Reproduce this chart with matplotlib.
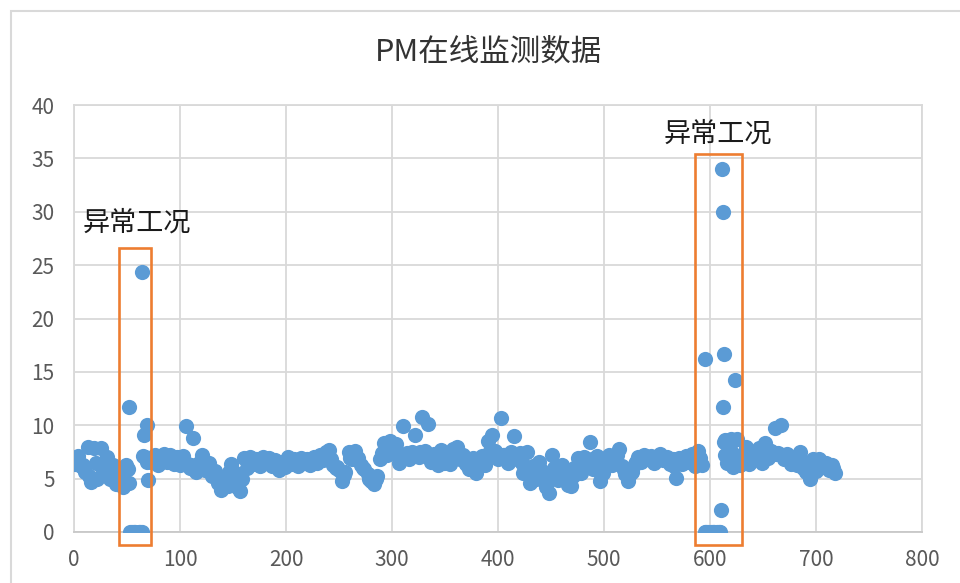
import numpy as np
import matplotlib
matplotlib.use("Agg")
import matplotlib.pyplot as plt
from matplotlib.patches import Rectangle

plt.rcParams['font.family'] = ['Noto Sans CJK SC', 'DejaVu Sans']

# 采样序号（每3个取一个）
sample_x = np.arange(1, 720, 3)
# 对应的PM读数
pm_y = [
    6.4, 7.1, 6.2, 5.6, 8.0, 4.7, 7.9, 5.0, 7.9, 6.0,   # 1-28
    7.0, 5.0, 6.3, 4.5, 5.6, 4.2, 6.3, 4.6, 0.0, 0.0,   # 31-58
    0.0, 0.0, 7.0, 4.9, 6.6, 7.2, 6.3, 6.9, 7.3, 6.6,   # 61-88
    7.2, 6.4, 7.0, 6.3, 7.1, 9.9, 6.0, 8.8, 5.6, 6.5,   # 91-118
    7.2, 5.8, 6.5, 5.2, 5.7, 4.6, 3.9, 4.8, 4.3, 6.4,   # 121-148
    5.6, 4.2, 3.8, 6.9, 6.0, 7.0, 6.4, 6.8, 6.2, 7.0,   # 151-178
    6.5, 6.9, 6.2, 6.7, 5.8, 6.6, 6.1, 7.0, 6.4, 6.8,   # 181-208
    6.2, 6.9, 6.5, 6.8, 6.3, 7.0, 6.5, 7.2, 6.7, 7.5,   # 211-238
    7.7, 6.3, 6.0, 5.8, 4.8, 5.6, 7.5, 6.8, 7.6, 6.9,   # 241-268
    6.3, 5.9, 5.4, 4.8, 4.5, 5.2, 6.8, 8.3, 7.2, 8.5,   # 271-298
    7.5, 8.2, 6.5, 9.9, 7.2, 6.8, 7.5, 9.1, 7.0, 10.8,  # 301-328
    7.6, 10.1, 6.6, 7.3, 6.3, 7.7, 6.5, 7.0, 6.4, 7.8,  # 331-358
    8.0, 6.8, 7.2, 6.4, 5.9, 6.9, 5.5, 6.5, 7.1, 6.3,   # 361-388
    8.5, 9.1, 7.6, 6.8, 10.7, 7.2, 6.5, 7.5, 9.0, 6.8,  # 391-418
    7.4, 5.5, 7.5, 4.6, 6.2, 5.0, 6.6, 5.4, 4.2, 3.7,   # 421-448
    7.2, 5.6, 4.9, 6.3, 5.2, 4.4, 4.3, 6.0, 6.9, 5.5,   # 451-478
    7.0, 6.2, 8.4, 5.9, 7.1, 4.8, 5.5, 6.8, 7.2, 6.3,   # 481-508
    7.0, 7.8, 6.2, 5.4, 4.8, 5.6, 6.4, 7.0, 6.6, 7.2,   # 511-538
    6.8, 7.1, 6.5, 6.9, 7.3, 6.7, 7.0, 6.4, 6.8, 5.1,   # 541-568
    6.9, 6.4, 7.1, 6.6, 7.3, 6.2, 7.6, 6.3, 0.0, 0.0,   # 571-598
    0.0, 0.0, 0.0, 2.1, 8.4, 6.5, 7.8, 6.1, 8.7, 6.3,   # 601-628
    7.2, 8.0, 6.4, 7.5, 6.8, 7.9, 6.5, 8.3, 6.9, 7.6,   # 631-658
    9.7, 7.4, 10.0, 6.8, 7.3, 6.4, 7.0, 6.3, 7.5, 6.0,  # 661-688
    5.6, 5.0, 6.8, 5.7, 6.8, 6.1, 6.5, 5.8, 6.3, 5.5,   # 691-718
]
# 其余采样（2.5起，每6个取一个）
mid_y = [
    6.8, 6.3, 5.2, 6.5, 5.4, 6.0, 5.2, 4.6, 5.9, 0.0,   # 2.5-56.5
    0.0, 6.6, 6.8, 6.5, 7.0, 6.7, 6.8, 6.6, 6.3, 6.0,   # 62.5-116.5
    6.6, 6.0, 5.2, 4.6, 5.6, 4.8, 5.0, 6.5, 6.6, 6.5,   # 122.5-176.5
    6.6, 6.4, 6.4, 6.5, 6.6, 6.6, 6.6, 6.7, 6.8, 7.0,   # 182.5-236.5
    6.8, 6.1, 5.3, 6.9, 7.0, 6.0, 5.0, 5.0, 7.4, 7.8,   # 242.5-296.5
    7.8, 7.0, 7.4, 7.3, 7.5, 7.2, 7.0, 7.0, 6.8, 7.2,   # 302.5-356.5
    7.2, 6.6, 6.4, 6.2, 6.8, 7.6, 7.4, 7.2, 7.0, 7.2,   # 362.5-416.5
    6.5, 5.8, 5.6, 5.8, 5.0, 6.0, 5.6, 5.0, 5.2, 6.2,   # 422.5-476.5
    6.5, 6.8, 6.0, 6.2, 6.7, 7.2, 5.8, 5.4, 6.6, 6.8,   # 482.5-536.5
    6.9, 6.8, 7.0, 6.8, 6.2, 6.6, 6.8, 6.8, 6.9, 0.0,   # 542.5-596.5
    0.0, 0.0, 7.2, 7.4, 7.0, 7.4, 7.0, 7.2, 7.4, 7.6,   # 602.5-656.5
    7.3, 7.2, 6.9, 6.7, 6.6, 5.8, 6.2, 6.4, 6.2, 6.0,   # 662.5-716.5
]
mid_x = 2.5 + 6 * np.arange(len(mid_y))
# 异常工况附近的其余点
extra_x = [52, 53, 64, 65, 66, 68.5,
           595, 609, 611, 612.5, 613.5, 624, 612.5, 614, 617, 620, 622]
extra_y = [11.7, 0.0, 24.4, 7.1, 9.1, 10.0,
           16.2, 0.0, 34.0, 30.0, 16.7, 14.2, 11.7, 8.6, 8.3, 8.7, 6.8]

# 异常区间 (x0, x1, ymax) 与标注位置
boxes = [(42.5, 72.6, 26.6), (585.8, 630.2, 35.4)]
notes = [(59, 28.9), (607.5, 37.3)]

fig = plt.figure(figsize=(9.6, 5.83), dpi=100)
ax = fig.add_axes([74 / 960, 1 - 532 / 583, 848 / 960, 427 / 583])

for xs, ys in [(sample_x, pm_y), (mid_x, mid_y), (extra_x, extra_y)]:
    ax.scatter(xs, ys, s=120, color='#5b9bd5', linewidths=0, zorder=3)

ax.set_xlim(0, 800)
ax.set_ylim(0, 40)
ax.set_xticks(range(0, 801, 100))
ax.set_yticks(range(0, 41, 5))
ax.grid(True, color='#d9d9d9', linewidth=1.3)
ax.set_axisbelow(True)
for sp in ax.spines.values():
    sp.set_color('#d9d9d9')
    sp.set_linewidth(1.3)
ax.spines['bottom'].set_color('#c8c8c8')
ax.tick_params(length=0, labelsize=15, colors='#595959')
ax.tick_params(axis='y', pad=14)
ax.tick_params(axis='x', pad=12)

for (x0, x1, top) in boxes:
    ax.add_patch(Rectangle((x0, -1.2), x1 - x0, top + 1.2, fill=False,
                           edgecolor='#ed7d31', linewidth=1.9, clip_on=False, zorder=4))
for (nx, ny) in notes:
    ax.text(nx, ny, '异常工况', fontsize=19.5, color='#1a1a1a', ha='center', va='center')

fig.text(488 / 960, 1 - 52 / 583, 'PM在线监测数据', fontsize=22, color='#333333',
         ha='center', va='center')

# 图表区外框
fig.patches.append(Rectangle((10.5 / 960, -0.1), 1.0, 1 - 10.5 / 583 + 0.1,
                             transform=fig.transFigure, fill=False,
                             edgecolor='#d9d9d9', linewidth=1.5))

fig.savefig('out.png', dpi=100)
